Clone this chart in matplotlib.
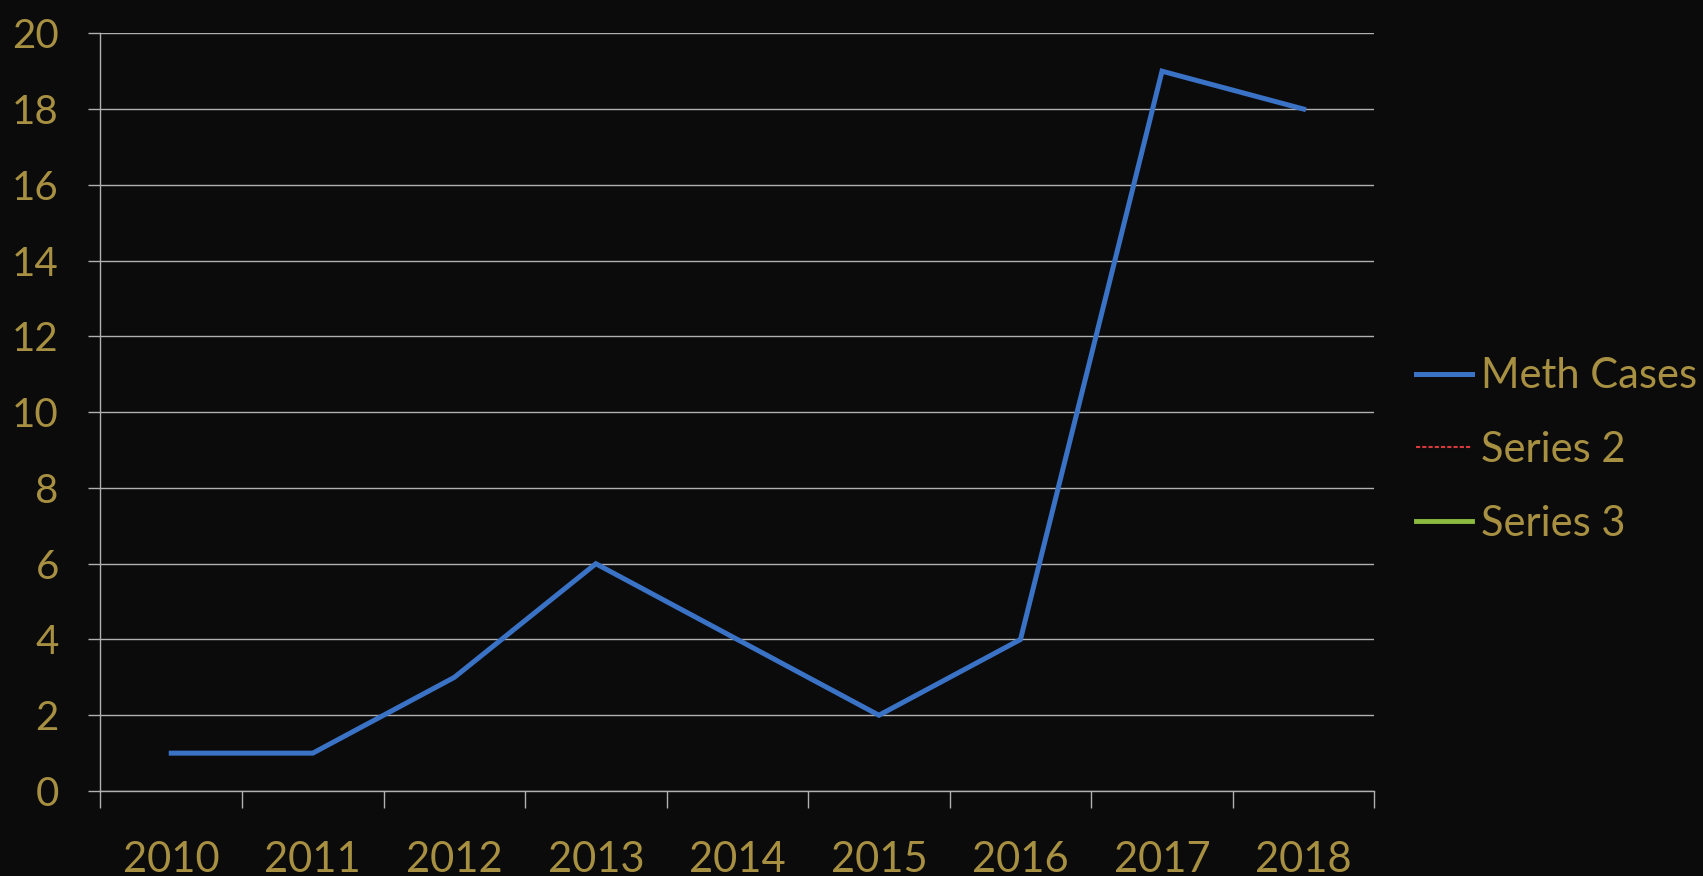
import matplotlib
matplotlib.use("Agg")
import matplotlib.pyplot as plt
import numpy as np

# data
years = ["2010", "2011", "2012", "2013", "2014", "2015", "2016", "2017", "2018"]
meth_cases = [1, 1, 3, 6, 4, 2, 4, 19, 18]
series_labels = ["Meth Cases", "Series 2", "Series 3"]
y_ticks = [0, 2, 4, 6, 8, 10, 12, 14, 16, 18, 20]

BG = "#0b0b0b"
GOLD = "#a89042"
GRID = "#b0b0b0"
BLUE = "#3a72c6"

plt.rcParams["font.family"] = ["Lato", "DejaVu Sans"]

fig = plt.figure(figsize=(17.03, 8.76), dpi=100, facecolor=BG)
ax = fig.add_axes([0.059, 0.097, 0.748, 0.865], facecolor=BG)

x = np.arange(len(years))
ax.plot(x, meth_cases, color=BLUE, lw=3.6, solid_joinstyle="miter", label=series_labels[0], zorder=3)
# empty series, they only show up in the legend
ax.plot([], [], color="#d63a3a", lw=1.5, ls=(0, (2, 1)), label=series_labels[1])
ax.plot([], [], color="#8dbb3f", lw=3.5, label=series_labels[2])

ax.set_xlim(-0.5, len(years) - 0.5)
ax.set_ylim(0, 20)
ax.set_yticks(y_ticks)
ax.set_yticklabels([str(v) for v in y_ticks])
ax.set_xticks(x)
ax.set_xticklabels(years)
ax.set_xticks(np.arange(-0.5, len(years), 1), minor=True)

ax.grid(axis="y", color=GRID, lw=1.0, zorder=1)
for s in ["top", "right"]:
    ax.spines[s].set_visible(False)
for s in ["left", "bottom"]:
    ax.spines[s].set_color(GRID)
    ax.spines[s].set_linewidth(1.0)

ax.tick_params(axis="y", colors=GRID, length=9, width=1.0, pad=21, labelsize=29, labelcolor=GOLD)
ax.tick_params(axis="x", which="major", length=0, pad=36, labelsize=30, labelcolor=GOLD)
ax.tick_params(axis="x", which="minor", colors=GRID, length=12, width=1.0)

leg = ax.legend(loc="center left", bbox_to_anchor=(1.0, 0.45), frameon=False,
                fontsize=30, handlelength=1.35, handletextpad=0.2, labelspacing=0.86,
                borderaxespad=0.6)
for t in leg.get_texts():
    t.set_color(GOLD)

fig.savefig("out.png", dpi=100, facecolor=BG)
